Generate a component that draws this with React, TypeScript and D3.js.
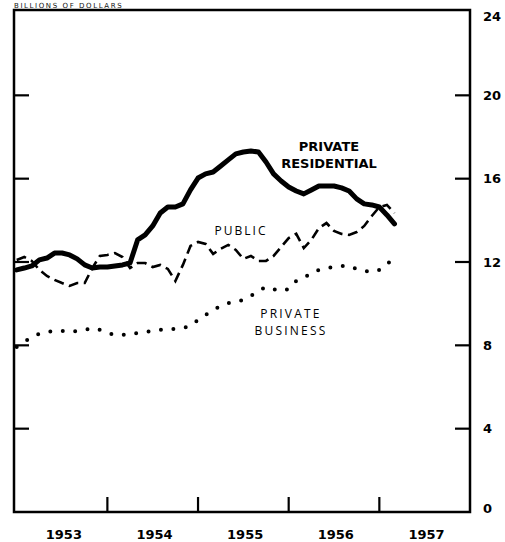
import React from "react";
import * as d3 from "d3";

const startYear = 1953;
const privateResidential = [
  11.62, 11.71, 11.81, 12.1, 12.19, 12.43, 12.43, 12.34, 12.15, 11.86, 11.71, 11.76,
  11.76, 11.81, 11.86, 11.95, 13.06, 13.3, 13.73, 14.35, 14.64, 14.64, 14.79, 15.46,
  16.03, 16.23, 16.32, 16.61, 16.9, 17.19, 17.28, 17.33, 17.28, 16.8, 16.23, 15.89,
  15.6, 15.41, 15.27, 15.46, 15.65, 15.65, 15.65, 15.56, 15.41, 15.03, 14.79, 14.74,
  14.64, 14.26, 13.83,
];
const publicSeries = [
  12.1, 12.24, 12.05, 11.62, 11.33, 11.14, 10.99, 10.85, 10.99, 10.99, 11.71, 12.29,
  12.34, 12.43, 12.24, 11.71, 11.95, 11.95, 11.76, 11.86, 11.67, 11.09, 11.86, 12.77,
  12.96, 12.87, 12.39, 12.63, 12.82, 12.58, 12.15, 12.29, 12.05, 12.05, 12.29, 12.72,
  13.15, 13.35, 12.67, 13.06, 13.63, 13.87, 13.49, 13.35, 13.3, 13.44, 13.73, 14.21,
  14.64, 14.74, 14.35,
];
const privateBusiness = [
  7.92, 8.16, 8.4, 8.55, 8.64, 8.69, 8.69, 8.64, 8.69, 8.74, 8.83, 8.74,
  8.59, 8.5, 8.5, 8.55, 8.59, 8.64, 8.69, 8.74, 8.79, 8.79, 8.83, 8.93,
  9.22, 9.46, 9.7, 9.89, 10.03, 10.08, 10.18, 10.37, 10.61, 10.8, 10.7, 10.61,
  10.7, 11.09, 11.23, 11.47, 11.62, 11.71, 11.76, 11.81, 11.81, 11.66, 11.57, 11.52,
  11.62, 11.86, 12.29,
];
const yTicks = [0, 4, 8, 12, 16, 20, 24];
const yearTicks = [1954, 1955, 1956, 1957];
const yearLabels = ["1953", "1954", "1955", "1956", "1957"];
const unitLabel = "BILLIONS OF DOLLARS";

const W = 505;
const H = 542;
const left = 14;
const right = 470;
const top = 10;
const bottom = 512;

export default function App() {
  const x = d3.scaleLinear().domain([1952.97, 1958.0]).range([left, right]);
  const y = d3.scaleLinear().domain([0, 24]).range([bottom, top + 2]);
  const t = (i: number) => startYear + i / 12;
  const line = d3
    .line<number>()
    .x((_, i) => x(t(i)))
    .y((d) => y(d))
    .curve(d3.curveLinear);

  const heavy = "'DejaVu Sans', 'Liberation Sans', sans-serif";
  const light = "'Open Sans', 'DejaVu Sans', sans-serif";

  return (
    <svg
      width={W}
      height={H}
      style={{ position: "absolute", left: 0, top: 0, background: "#fff" }}
    >
      <text x={14} y={7.5} fontFamily="'DejaVu Sans', sans-serif" fontSize={7} letterSpacing={1.6} fill="#111">
        {unitLabel}
      </text>
      <rect x={left} y={top} width={right - left} height={bottom - top} fill="none" stroke="#000" strokeWidth={2.5} />
      {yTicks.filter((v) => v > 0 && v < 24).map((v) => (
        <g key={v}>
          <line x1={left} x2={left + 15} y1={y(v)} y2={y(v)} stroke="#000" strokeWidth={2.2} />
          <line x1={right - 15} x2={right} y1={y(v)} y2={y(v)} stroke="#000" strokeWidth={2.2} />
        </g>
      ))}
      {yTicks.map((v) => (
        <text
          key={"l" + v}
          x={483}
          y={Math.min(Math.max(y(v), 16), 508)}
          dominantBaseline="central"
          fontFamily={heavy}
          fontWeight={900}
          fontSize={13}
          fill="#000"
        >
          {v}
        </text>
      ))}
      {yearTicks.map((yr) => (
        <line key={yr} x1={x(yr)} x2={x(yr)} y1={bottom} y2={bottom - 15} stroke="#000" strokeWidth={2.2} />
      ))}
      {yearLabels.map((lbl) => (
        <text
          key={lbl}
          x={x(+lbl + 0.52)}
          y={534}
          textAnchor="middle"
          dominantBaseline="central"
          fontFamily={heavy}
          fontWeight={900}
          fontSize={13}
          fill="#000"
        >
          {lbl}
        </text>
      ))}
      <path
        d={line(privateBusiness) || ""}
        fill="none"
        stroke="#000"
        strokeWidth={4}
        strokeLinecap="round"
        strokeDasharray="0 12.5"
      />
      <path
        d={line(publicSeries) || ""}
        fill="none"
        stroke="#000"
        strokeWidth={2.6}
        strokeDasharray="10 5.5"
      />
      <path
        d={line(privateResidential) || ""}
        fill="none"
        stroke="#000"
        strokeWidth={5}
        strokeLinejoin="round"
        strokeLinecap="round"
      />
      <text x={329} y={146} textAnchor="middle" dominantBaseline="central" fontFamily={heavy} fontWeight={900} fontSize={13} fill="#000">
        PRIVATE
      </text>
      <text x={329} y={163} textAnchor="middle" dominantBaseline="central" fontFamily={heavy} fontWeight={900} fontSize={13} fill="#000">
        RESIDENTIAL
      </text>
      <text x={241} y={230} textAnchor="middle" dominantBaseline="central" fontFamily={light} fontSize={12} letterSpacing={2} fill="#000">
        PUBLIC
      </text>
      <text x={291} y={313} textAnchor="middle" dominantBaseline="central" fontFamily={light} fontSize={12} letterSpacing={2.2} fill="#000">
        PRIVATE
      </text>
      <text x={291} y={330} textAnchor="middle" dominantBaseline="central" fontFamily={light} fontSize={12} letterSpacing={2.2} fill="#000">
        BUSINESS
      </text>
    </svg>
  );
}
